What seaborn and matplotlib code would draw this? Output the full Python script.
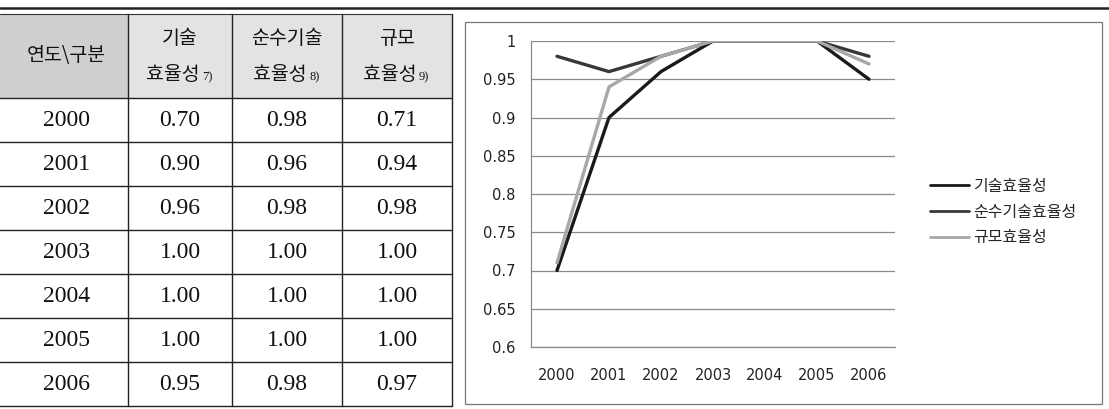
import numpy as np
import pandas as pd
import seaborn as sns
import matplotlib.pyplot as plt
from matplotlib.patches import Rectangle
from matplotlib.lines import Line2D

years = ["2000", "2001", "2002", "2003", "2004", "2005", "2006"]
tech_eff = [0.70, 0.90, 0.96, 1.00, 1.00, 1.00, 0.95]
pure_tech_eff = [0.98, 0.96, 0.98, 1.00, 1.00, 1.00, 0.98]
scale_eff = [0.71, 0.94, 0.98, 1.00, 1.00, 1.00, 0.97]

series_names = ["기술효율성", "순수기술효율성", "규모효율성"]
header_top = ["", "기술", "순수기술", "규모"]
header_bottom = ["연도\\구분", "효율성", "효율성", "효율성"]
header_notes = ["", "7)", "8)", "9)"]
y_ticks = [0.6, 0.65, 0.7, 0.75, 0.8, 0.85, 0.9, 0.95, 1.0]
y_tick_labels = ["0.6", "0.65", "0.7", "0.75", "0.8", "0.85", "0.9", "0.95", "1"]

sns.set_style("white")
plt.rcParams['font.family'] = ['Noto Sans CJK KR', 'DejaVu Sans']

W, H = 1109, 409
fig = plt.figure(figsize=(W / 100, H / 100), dpi=100)

# ---- table drawn in pixel space ----
tab = fig.add_axes([0, 0, 1, 1])
tab.set_xlim(0, W)
tab.set_ylim(H, 0)
tab.axis("off")

col_edges = [0, 128, 232, 342, 452]
row_edges = [98, 142, 186, 230, 274, 318, 362, 406]
head_y0 = 14

# header shading
tab.add_patch(Rectangle((0, head_y0), col_edges[1], row_edges[0] - head_y0,
                        facecolor="#cfcfcf", edgecolor="none"))
tab.add_patch(Rectangle((col_edges[1], head_y0), col_edges[-1] - col_edges[1],
                        row_edges[0] - head_y0, facecolor="#e3e3e3", edgecolor="none"))

tab.plot([0, W], [8, 8], color="#222222", lw=1.8)
tab.plot([0, col_edges[-1]], [head_y0, head_y0], color="#333333", lw=0.8)
for y in row_edges:
    tab.plot([0, col_edges[-1]], [y, y], color="#222222", lw=1.0)
for x in col_edges[1:]:
    tab.plot([x, x], [head_y0, row_edges[-1]], color="#222222", lw=1.0)

centers = [(col_edges[i] + col_edges[i + 1]) / 2 for i in range(4)]
hfont = dict(fontsize=14, color="#111111", family=['Noto Sans CJK KR', 'DejaVu Sans'])
tab.text(centers[0] + 2, 56, header_bottom[0], ha="center", va="center", **hfont)
for i in range(1, 4):
    tab.text(centers[i], 39, header_top[i], ha="center", va="center", **hfont)
    tab.text(centers[i] - 7, 74, header_bottom[i], ha="center", va="center", **hfont)
    tab.text(centers[i] + 22, 80, header_notes[i], ha="left", va="baseline",
             fontsize=9, color="#111111", family=["Liberation Serif"])

cols = [tech_eff, pure_tech_eff, scale_eff]
nfont = dict(fontsize=17, color="#111111", family=["Liberation Serif"])
for r, yr in enumerate(years):
    cy = (row_edges[r] + row_edges[r + 1]) / 2
    tab.text(centers[0] + 3, cy, yr, ha="center", va="center", **nfont)
    for c in range(3):
        tab.text(centers[c + 1], cy, f"{cols[c][r]:.2f}", ha="center", va="center", **nfont)

# chart frame
tab.add_patch(Rectangle((465, 22), 1102 - 465, 404 - 22, facecolor="none",
                        edgecolor="#777777", lw=0.9))

# ---- line chart ----
ax = fig.add_axes([531 / W, 1 - 347 / H, (895 - 531) / W, (347 - 41) / H])
ax.patch.set_alpha(0)

df = pd.DataFrame({
    "year": years * 3,
    "value": tech_eff + pure_tech_eff + scale_eff,
    "series": sum([[n] * len(years) for n in series_names], []),
})
palette = {"기술효율성": "#1a1a1a", "순수기술효율성": "#383838", "규모효율성": "#a8a8a8"}
sns.lineplot(data=df, x="year", y="value", hue="series", palette=palette,
             linewidth=2.4, ax=ax, sort=False, legend=False)

ax.set_xlim(-0.5, len(years) - 0.5)
ax.set_ylim(0.6, 1.0)
ax.set_yticks(y_ticks)
ax.set_yticklabels(y_tick_labels)
ax.yaxis.grid(True, color="#8a8a8a", lw=0.9)
ax.set_axisbelow(True)
ax.set_xlabel("")
ax.set_ylabel("")
ax.set_xticks(range(len(years)))
ax.set_xticks(np.arange(-0.5, len(years)), minor=True)
ax.tick_params(axis="x", which="major", length=0, pad=15, labelsize=10.5, colors="#222222")
ax.tick_params(axis="x", which="minor", length=4, color="#888888", direction="out")
ax.tick_params(axis="y", length=0, pad=11, labelsize=10.5, colors="#222222")
for lab in ax.get_xticklabels() + ax.get_yticklabels():
    lab.set_family("DejaVu Sans")
for s in ["top", "right"]:
    ax.spines[s].set_visible(False)
for s in ["left", "bottom"]:
    ax.spines[s].set_color("#8a8a8a")
    ax.spines[s].set_linewidth(0.9)

handles = [Line2D([], [], color=palette[n], lw=2.0) for n in series_names]
fig.legend(handles, series_names, loc="center left",
           bbox_to_anchor=(916 / W, 1 - 212 / H), frameon=False, fontsize=11.5,
           handlelength=2.4, handletextpad=0.3, labelspacing=0.55)

fig.savefig("out.png", dpi=100)
